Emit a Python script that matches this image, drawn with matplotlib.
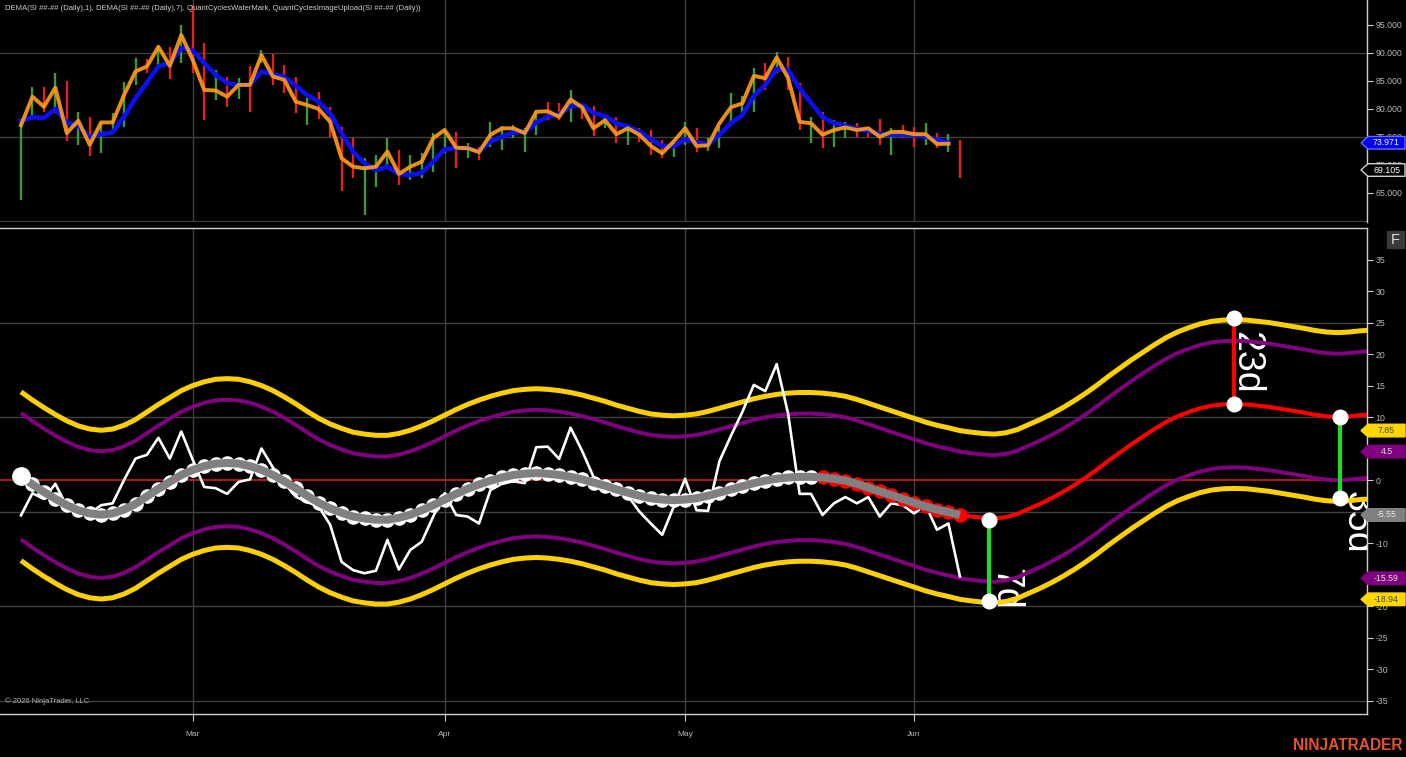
import numpy as np
import matplotlib
matplotlib.use("Agg")
import matplotlib.pyplot as plt
from matplotlib.patches import Polygon, Rectangle
from matplotlib.transforms import IdentityTransform

# ---------------- data ----------------
title_text = "DEMA(SI ##-## (Daily),1), DEMA(SI ##-## (Daily),7), QuantCyclesWaterMark, QuantCyclesImageUpload(SI ##-## (Daily))"
month_bars = [15, 37, 58, 78]
month_labels = ["Mar", "Apr", "May", "Jun"]

bar_high = [78.0, 84.0, 84.0, 86.4, 85.0, 79.5, 78.6, 77.7, 79.2, 84.9,
            89.05, 88.9, 91.5, 91.1, 95.0, 98.6, 91.7, 87.0, 85.8, 85.5,
            87.6, 90.5, 89.9, 87.9, 85.8, 81.9, 83.1, 80.4, 76.85, 74.8,
            71.2, 71.8, 74.8, 72.7, 71.8, 72.1, 75.65, 76.25, 75.95, 73.9,
            73.3, 77.7, 76.96, 77.1, 76.55, 79.8, 81.3, 81.0, 83.4, 80.7,
            80.5, 78.9, 78.6, 76.85, 76.55, 76.25, 74.46, 73.9, 77.7, 76.55,
            74.9, 76.85, 82.8, 82.3, 87.26, 88.15, 90.2, 89.35, 84.6, 78.6,
            79.5, 78.0, 77.7, 77.44, 76.85, 78.3, 76.55, 77.15, 76.7, 77.56,
            75.77, 75.47, 74.46]
bar_low = [63.75, 78.6, 79.5, 79.2, 74.2, 73.6, 71.6, 72.1, 76.25, 76.85,
           84.3, 86.4, 87.6, 85.3, 88.15, 86.4, 78.0, 81.6, 80.4, 81.7,
           79.5, 88.15, 84.3, 82.8, 79.2, 77.1, 78.3, 75.05, 65.4, 67.6,
           61.1, 66.1, 69.7, 66.4, 67.3, 67.6, 68.8, 72.1, 69.4, 71.2,
           70.9, 73.3, 72.7, 74.76, 72.38, 75.35, 78.0, 78.0, 77.7, 78.3,
           75.2, 76.55, 73.9, 73.6, 74.16, 71.8, 71.2, 71.5, 73.6, 72.38,
           72.56, 72.97, 77.7, 79.2, 79.5, 83.4, 86.4, 83.4, 76.25, 73.9,
           72.97, 73.3, 74.76, 75.05, 75.05, 73.6, 71.8, 74.76, 73.3, 73.6,
           72.97, 72.38, 67.6]
bar_up = [1, 1, 0, 1, 0, 1, 0, 1, 1, 1,
          1, 0, 1, 0, 1, 0, 0, 1, 0, 1,
          0, 1, 0, 0, 0, 1, 0, 0, 0, 0,
          1, 1, 1, 0, 1, 1, 1, 1, 0, 1,
          0, 1, 1, 1, 1, 1, 0, 0, 1, 0,
          0, 1, 0, 1, 0, 0, 0, 1, 1, 0,
          1, 1, 1, 1, 1, 0, 1, 0, 0, 1,
          0, 1, 1, 0, 0, 0, 1, 0, 0, 1,
          0, 1, 0]

dema_fast = [77.1, 82.2, 80.4, 83.8, 75.7, 77.9, 73.6, 77.6, 77.6, 82.5,
             86.7, 87.6, 91.1, 87.7, 93.2, 88.75, 83.4, 83.3, 82.2, 84.3,
             84.3, 89.6, 85.8, 85.2, 81.3, 80.7, 80.0, 77.7, 71.2, 69.7,
             69.4, 69.7, 72.4, 68.4, 69.7, 70.6, 74.8, 76.25, 73.1, 73.0,
             72.3, 75.4, 76.55, 76.55, 75.7, 79.5, 79.6, 78.6, 81.7, 80.3,
             76.55, 78.0, 75.5, 76.55, 75.4, 73.4, 72.1, 74.2, 76.55, 73.4,
             73.5, 77.45, 80.3, 81.0, 85.9, 85.5, 89.2, 85.5, 77.7, 77.45,
             75.4, 76.25, 76.7, 76.25, 76.55, 75.05, 75.9, 75.9, 75.5, 75.5,
             73.75, 73.8]
dema_slow = [77.9, 78.5, 78.4, 80.0, 77.6, 77.0, 75.0, 75.5, 75.8, 78.6,
             81.9, 84.7, 87.6, 88.2, 90.9, 90.4, 88.2, 86.1, 84.6, 84.3,
             84.3, 86.7, 86.25, 85.7, 84.1, 82.5, 81.3, 79.2, 75.7, 72.4,
             70.3, 69.1, 69.7, 68.4, 68.2, 68.6, 70.6, 72.8, 73.0, 73.0,
             72.4, 74.2, 75.05, 75.8, 75.9, 77.6, 78.6, 79.05, 80.5, 80.7,
             79.3, 78.75, 77.45, 76.85, 75.95, 74.6, 73.4, 73.3, 74.6, 74.05,
             73.7, 75.4, 77.45, 78.9, 82.3, 84.3, 87.1, 87.0, 83.7, 81.1,
             78.6, 77.45, 77.0, 76.4, 76.1, 75.5, 75.4, 75.4, 75.3, 75.1,
             74.5, 73.971]
price_tag_slow = 73.971
price_tag_last = 69.105

# oscillator (raw, white)
raw_osc = [-5.6, -2.1, -3.0, -0.6, -4.2, -4.8, -5.3, -4.0, -3.7, 0.0,
           3.4, 4.0, 6.7, 3.4, 7.7, 3.2, -1.1, -1.3, -2.2, -0.3,
           0.1, 5.0, 2.0, -0.5, -2.65, -3.5, -4.2, -7.1, -13.0, -14.3,
           -14.8, -14.4, -9.5, -14.2, -11.1, -9.8, -5.8, -2.1, -5.55, -5.8,
           -6.9, -1.6, -0.6, -0.2, -0.5, 5.2, 5.3, 3.35, 8.3, 4.65,
           0.5, -1.0, -1.8, -2.5, -5.0, -6.9, -8.7, -4.25, 0.2, -4.8,
           -4.9, 3.0, 7.0, 10.8, 15.1, 14.1, 18.4, 10.5, -2.2, -2.2,
           -5.55, -3.7, -2.7, -3.7, -2.7, -5.8, -3.7, -4.0, -5.3, -4.0,
           -7.9, -6.9, -15.3]

# cycle line: past (gray, bars 0-82) then projection (red, bars 82-118)
cycle_line = [0.6, -0.7, -1.9, -3.0, -4.0, -4.8, -5.3, -5.5, -5.3, -4.7,
              -3.8, -2.6, -1.4, -0.3, 0.8, 1.6, 2.2, 2.6, 2.7, 2.6,
              2.2, 1.6, 0.8, -0.2, -1.3, -2.5, -3.6, -4.5, -5.2, -5.8,
              -6.1, -6.3, -6.3, -6.0, -5.5, -4.8, -4.0, -3.1, -2.2, -1.4,
              -0.7, -0.1, 0.4, 0.8, 1.0, 1.1, 1.0, 0.8, 0.5, 0.1,
              -0.4, -0.9, -1.5, -2.0, -2.5, -2.9, -3.1, -3.2, -3.1, -2.9,
              -2.5, -2.0, -1.5, -1.0, -0.5, -0.1, 0.2, 0.4, 0.5, 0.5,
              0.4, 0.2, -0.1, -0.6, -1.2, -1.8, -2.4, -3.0, -3.6, -4.2,
              -4.7, -5.1, -5.55,
              -5.8, -6.0, -6.1, -5.9, -5.4, -4.6, -3.8, -2.9, -1.9, -0.8,
              0.4, 1.7, 3.1, 4.4, 5.7, 6.9, 8.1, 9.2, 10.1, 10.8,
              11.4, 11.8, 12.0, 12.05, 12.0, 11.8, 11.6, 11.3, 11.0, 10.7,
              10.35, 10.1, 10.0, 10.1, 10.3, 10.4]
last_real_bar = 82
red_marker_start = 70
# band half widths read from the price tags (7.85 / 4.5 / -15.59 / -18.94 around -5.55)
outer_offset = 13.39
inner_offset = 10.045
osc_tags = [(7.85, "7.85", "#ffd700", "#444444"),
            (4.5, "4.5", "#800080", "#e0e0e0"),
            (-5.55, "-5.55", "#808080", "#e8e8e8"),
            (-15.59, "-15.59", "#800080", "#e0e0e0"),
            (-18.94, "-18.94", "#ffd700", "#444444")]
hidden_tick_labels = [5, -5, -15]

# cycle measurement segments: (bar, top value, bottom value, colour)
segments = [(84.5, -6.3, -19.2, "#1edc1e"),
            (105.9, 25.7, 12.1, "#ff0000"),
            (115.2, 9.95, -2.9, "#1edc1e")]
# labels: (text, bar, value of top edge)
seg_labels = [("7d", 84.4, -13.9), ("23d", 105.45, 23.6), ("35d", 115.05, -1.8)]

# ---------------- layout ----------------
W, H = 1406, 757
BAR_PX, FIRST_PX, RIGHT_PX = 11.45, 21.0, 1367
fig = plt.figure(figsize=(W / 100, H / 100), dpi=100, facecolor="black")

def px_axes(x0, y0, x1, y1):
    a = fig.add_axes([x0 / W, 1 - y1 / H, (x1 - x0) / W, (y1 - y0) / H])
    a.set_facecolor("black")
    return a

ax1 = px_axes(0, 0, RIGHT_PX, 222)
ax2 = px_axes(0, 228, RIGHT_PX, 714)
xlim = (-FIRST_PX / BAR_PX, (RIGHT_PX - FIRST_PX) / BAR_PX)
FONT = ["Liberation Sans", "DejaVu Sans"]
GRID = "#404040"
AXC = "#cfcfcf"
TXT = "#b8b8b8"

for a in (ax1, ax2):
    a.set_xlim(*xlim)
    a.yaxis.tick_right()
    a.spines["left"].set_visible(False)
    for s in ("right", "top", "bottom"):
        a.spines[s].set_color(AXC)
        a.spines[s].set_linewidth(1.0)
    a.tick_params(axis="y", colors=AXC, labelcolor=TXT, length=4, width=0.8,
                  pad=2, labelsize=6.3, direction="out")
    for xb in month_bars:
        a.axvline(xb, color=GRID, lw=1.0, zorder=0)

# ---- top panel ----
ax1.spines["top"].set_visible(False)
ax1.spines["bottom"].set_visible(False)
ax1.set_ylim(59.82, 99.46)
ticks1 = [65, 70, 75, 80, 85, 90, 95]
ax1.set_yticks(ticks1)
ax1.set_yticklabels([f"{v:.3f}" for v in ticks1], family=FONT)
ax1.set_xticks([])
for gy in (60, 75, 90):
    ax1.axhline(gy, color=GRID, lw=1.0, zorder=0)

bars_p = np.arange(len(bar_high))
cols = ["#3b9b3b" if u else "#e8201c" for u in bar_up]
ax1.vlines(bars_p, bar_low, bar_high, colors=cols, lw=1.7, zorder=2)
ax1.plot(np.arange(len(dema_slow)), dema_slow, color="#0a10f5", lw=3.3, zorder=3,
         solid_joinstyle="round")
ax1.plot(np.arange(len(dema_fast)), dema_fast, color="#ff9a18", lw=2.8, zorder=4,
         alpha=0.92, solid_joinstyle="round")
ax1.text(5 / RIGHT_PX, 1 - 9 / 222, title_text, transform=ax1.transAxes,
         color="#d0d0d0", fontsize=5.5, family=FONT, va="center", ha="left")

# ---- bottom panel ----
ax2.set_ylim(-37.14, 40.0)
ticks2 = list(range(-35, 40, 5))
ax2.set_yticks(ticks2)
ax2.set_yticklabels(["" if t in hidden_tick_labels else str(t) for t in ticks2],
                    family=FONT)
ax2.set_xticks(month_bars)
ax2.set_xticklabels(month_labels, family=FONT)
ax2.tick_params(axis="x", colors=AXC, labelcolor=TXT, length=5, width=0.8,
                pad=7, labelsize=6)
for gy in (25, 10, -5, -20, -35):
    ax2.axhline(gy, color=GRID, lw=1.0, zorder=0)
ax2.axhline(0, color="#b81c1c", lw=1.3, zorder=1)

bars_c = np.arange(len(cycle_line))
cyc = np.array(cycle_line)
for off, col, lw in ((outer_offset, "#ffd000", 3.6), (-outer_offset, "#ffd000", 3.6),
                     (inner_offset, "#800080", 2.9), (-inner_offset, "#800080", 2.9)):
    ax2.plot(bars_c, cyc + off, color=col, lw=lw, zorder=2, solid_capstyle="butt")

# labels under the lines
for txt, xb, yv in seg_labels:
    ax2.text(xb, yv, txt, rotation=-90, color="white", fontsize=27,
             family=FONT, ha="left", va="top", zorder=1.5, clip_on=True)

# projection
ax2.plot(bars_c[last_real_bar:], cyc[last_real_bar:], color="#ff0000", lw=3.0,
         zorder=2.5)

# raw oscillator
ax2.plot(np.arange(len(raw_osc)), raw_osc, color="white", lw=1.9, zorder=3)

# smoothed cycle with scalloped markers
ax2.plot(bars_c[:red_marker_start], cyc[:red_marker_start], "o", ms=10.5,
         mfc="white", mec="white", mew=0, zorder=4)
ax2.plot(bars_c[red_marker_start:last_real_bar + 1],
         cyc[red_marker_start:last_real_bar + 1], "o", ms=10.5,
         mfc="#ff0000", mec="#ff0000", mew=0, zorder=4)
ax2.plot(bars_c[:last_real_bar + 1], cyc[:last_real_bar + 1], color="#808080",
         lw=5.8, zorder=5, solid_capstyle="butt", solid_joinstyle="round")
ax2.plot([bars_c[0]], [cyc[0]], "o", ms=12.5, mfc="white", mec="white", zorder=6)

for xb, top, bot, c in segments:
    ax2.plot([xb, xb], [top, bot], color=c, lw=3.0, zorder=6, solid_capstyle="butt")
    ax2.plot([xb, xb], [top, bot], "o", ms=11.5, mfc="white", mec="white",
             mew=0, zorder=7)

# ---- tags on right axis ----
def tag(ax, value, text, fill, tcolor, edge=None):
    y = ax.transData.transform((0, value))[1]
    h = 6.3
    x_tip, x_body, x_end = 1361, 1368, 1405
    pts = [(x_tip, y), (x_body, y + h), (x_end, y + h), (x_end, y - h), (x_body, y - h)]
    poly = Polygon(pts, closed=True, facecolor=fill, edgecolor=edge or fill,
                   lw=1.0, transform=IdentityTransform(), zorder=10)
    fig.add_artist(poly)
    fig.text((x_body + x_end) / 2 / W, y / H, text, color=tcolor, fontsize=6.3,
             family=FONT, ha="center", va="center", zorder=11)

tag(ax1, price_tag_slow, f"{price_tag_slow:.3f}", "#0000ff", "white", "#6a6aff")
tag(ax1, price_tag_last, f"{price_tag_last:.3f}", "black", "white", "#d0d0d0")
for v, t, fc, tc in osc_tags:
    tag(ax2, v, t, fc, tc)

# "F" button
fig.add_artist(Rectangle((1387, H - 248), 17, 17, facecolor="#3a3a3a",
                         edgecolor="#3a3a3a", transform=IdentityTransform(), zorder=10))
fig.text(1395.5 / W, 1 - 239.5 / H, "F", color="#e0e0e0", fontsize=10.5,
         family=FONT, ha="center", va="center", zorder=11)

fig.text(5 / W, 1 - 701 / H, "\u00a9 2026 NinjaTrader, LLC", color="#b0b0b0",
         fontsize=5.5, family=FONT, ha="left", va="center")
fig.text(1403 / W, 1 - 746 / H, "NINJATRADER", color="#e5532d", fontsize=11.2,
         fontweight="bold", family=FONT, ha="right", va="center")

fig.savefig("out.png", dpi=100, facecolor="black")
